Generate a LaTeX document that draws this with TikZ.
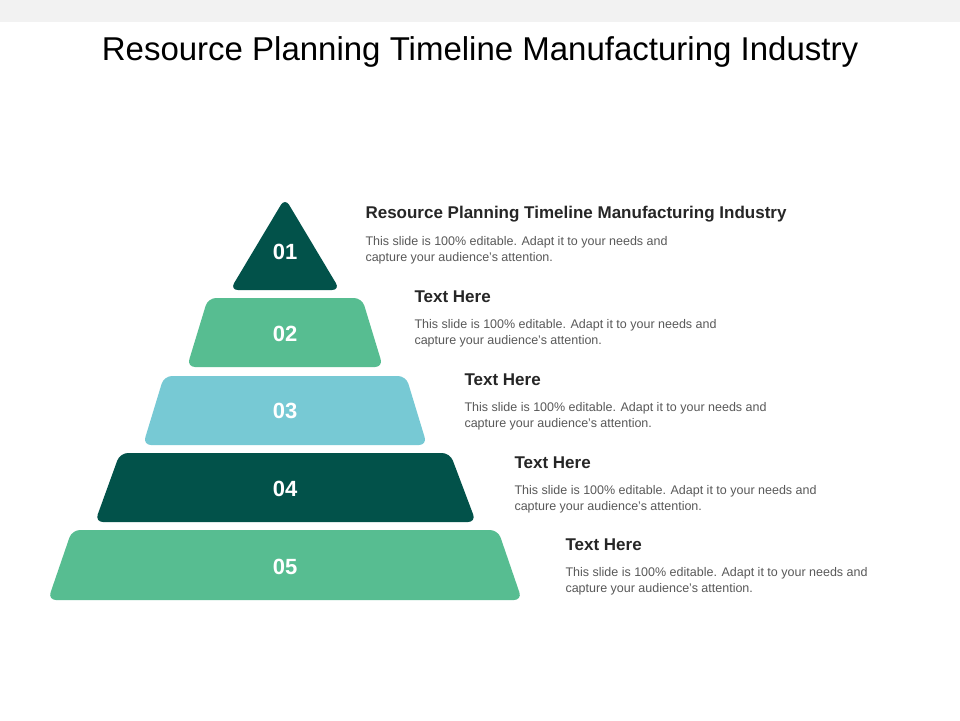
\documentclass[tikz,border=0pt]{standalone}
\usepackage{fontspec}
\setmainfont{Liberation Sans}
\definecolor{darkteal}{HTML}{02524A}
\definecolor{midgreen}{HTML}{57BD91}
\definecolor{lightblue}{HTML}{77C9D4}
\definecolor{bodygray}{HTML}{595959}
\tikzset{
  layer/.style = {rounded corners = 8pt},
  num/.style = {text = white, font = \fontsize{22}{24}\selectfont\bfseries},
  head/.style = {anchor = west, font = \fontsize{17}{20}\selectfont\bfseries, text = black!85},
  body/.style = {anchor = north west, align = left, text = bodygray, font = \fontsize{12.5}{16}\selectfont}
}
\begin{document}
\begin{tikzpicture}[x = 1pt, y = -1pt]
\useasboundingbox (0,0) rectangle (960,720);
\fill[white] (0,0) rectangle (960,720);
\fill[black!5] (0,0) rectangle (960,22);

\node (title) at (480,52) {\fontsize{33}{40}\selectfont Resource Planning Timeline Manufacturing Industry};

% pyramid
\fill[darkteal, layer] (285,198) -- (340,290) -- (230,290) -- cycle;
\fill[midgreen, layer] (208,298) -- (362,298) -- (383,367) -- (187,367) -- cycle;
\fill[lightblue, layer] (164,376) -- (406,376) -- (427,445) -- (143,445) -- cycle;
\fill[darkteal, layer] (120,453) -- (450,453) -- (476,522) -- (95,522) -- cycle;
\fill[midgreen, layer] (72,530) -- (498,530) -- (522,600) -- (48,600) -- cycle;

\node[num] (n1) at (285,252) {01};
\node[num] (n2) at (285,334) {02};
\node[num] (n3) at (285,411) {03};
\node[num] (n4) at (285,489) {04};
\node[num] (n5) at (285,567) {05};

% texts
\node[head] (h1) at (362,214) {Resource Planning Timeline Manufacturing Industry};
\node[body] (b1) at (362,233) {This slide is 100\% editable. Adapt it to your needs and\\capture your audience's attention.};
\node[head] (h2) at (411,297) {Text Here};
\node[body] (b2) at (411,316) {This slide is 100\% editable. Adapt it to your needs and\\capture your audience's attention.};
\node[head] (h3) at (461,380) {Text Here};
\node[body] (b3) at (461,399) {This slide is 100\% editable. Adapt it to your needs and\\capture your audience's attention.};
\node[head] (h4) at (511,463) {Text Here};
\node[body] (b4) at (511,482) {This slide is 100\% editable. Adapt it to your needs and\\capture your audience's attention.};
\node[head] (h5) at (562,545) {Text Here};
\node[body] (b5) at (562,564) {This slide is 100\% editable. Adapt it to your needs and\\capture your audience's attention.};
\end{tikzpicture}
\end{document}
